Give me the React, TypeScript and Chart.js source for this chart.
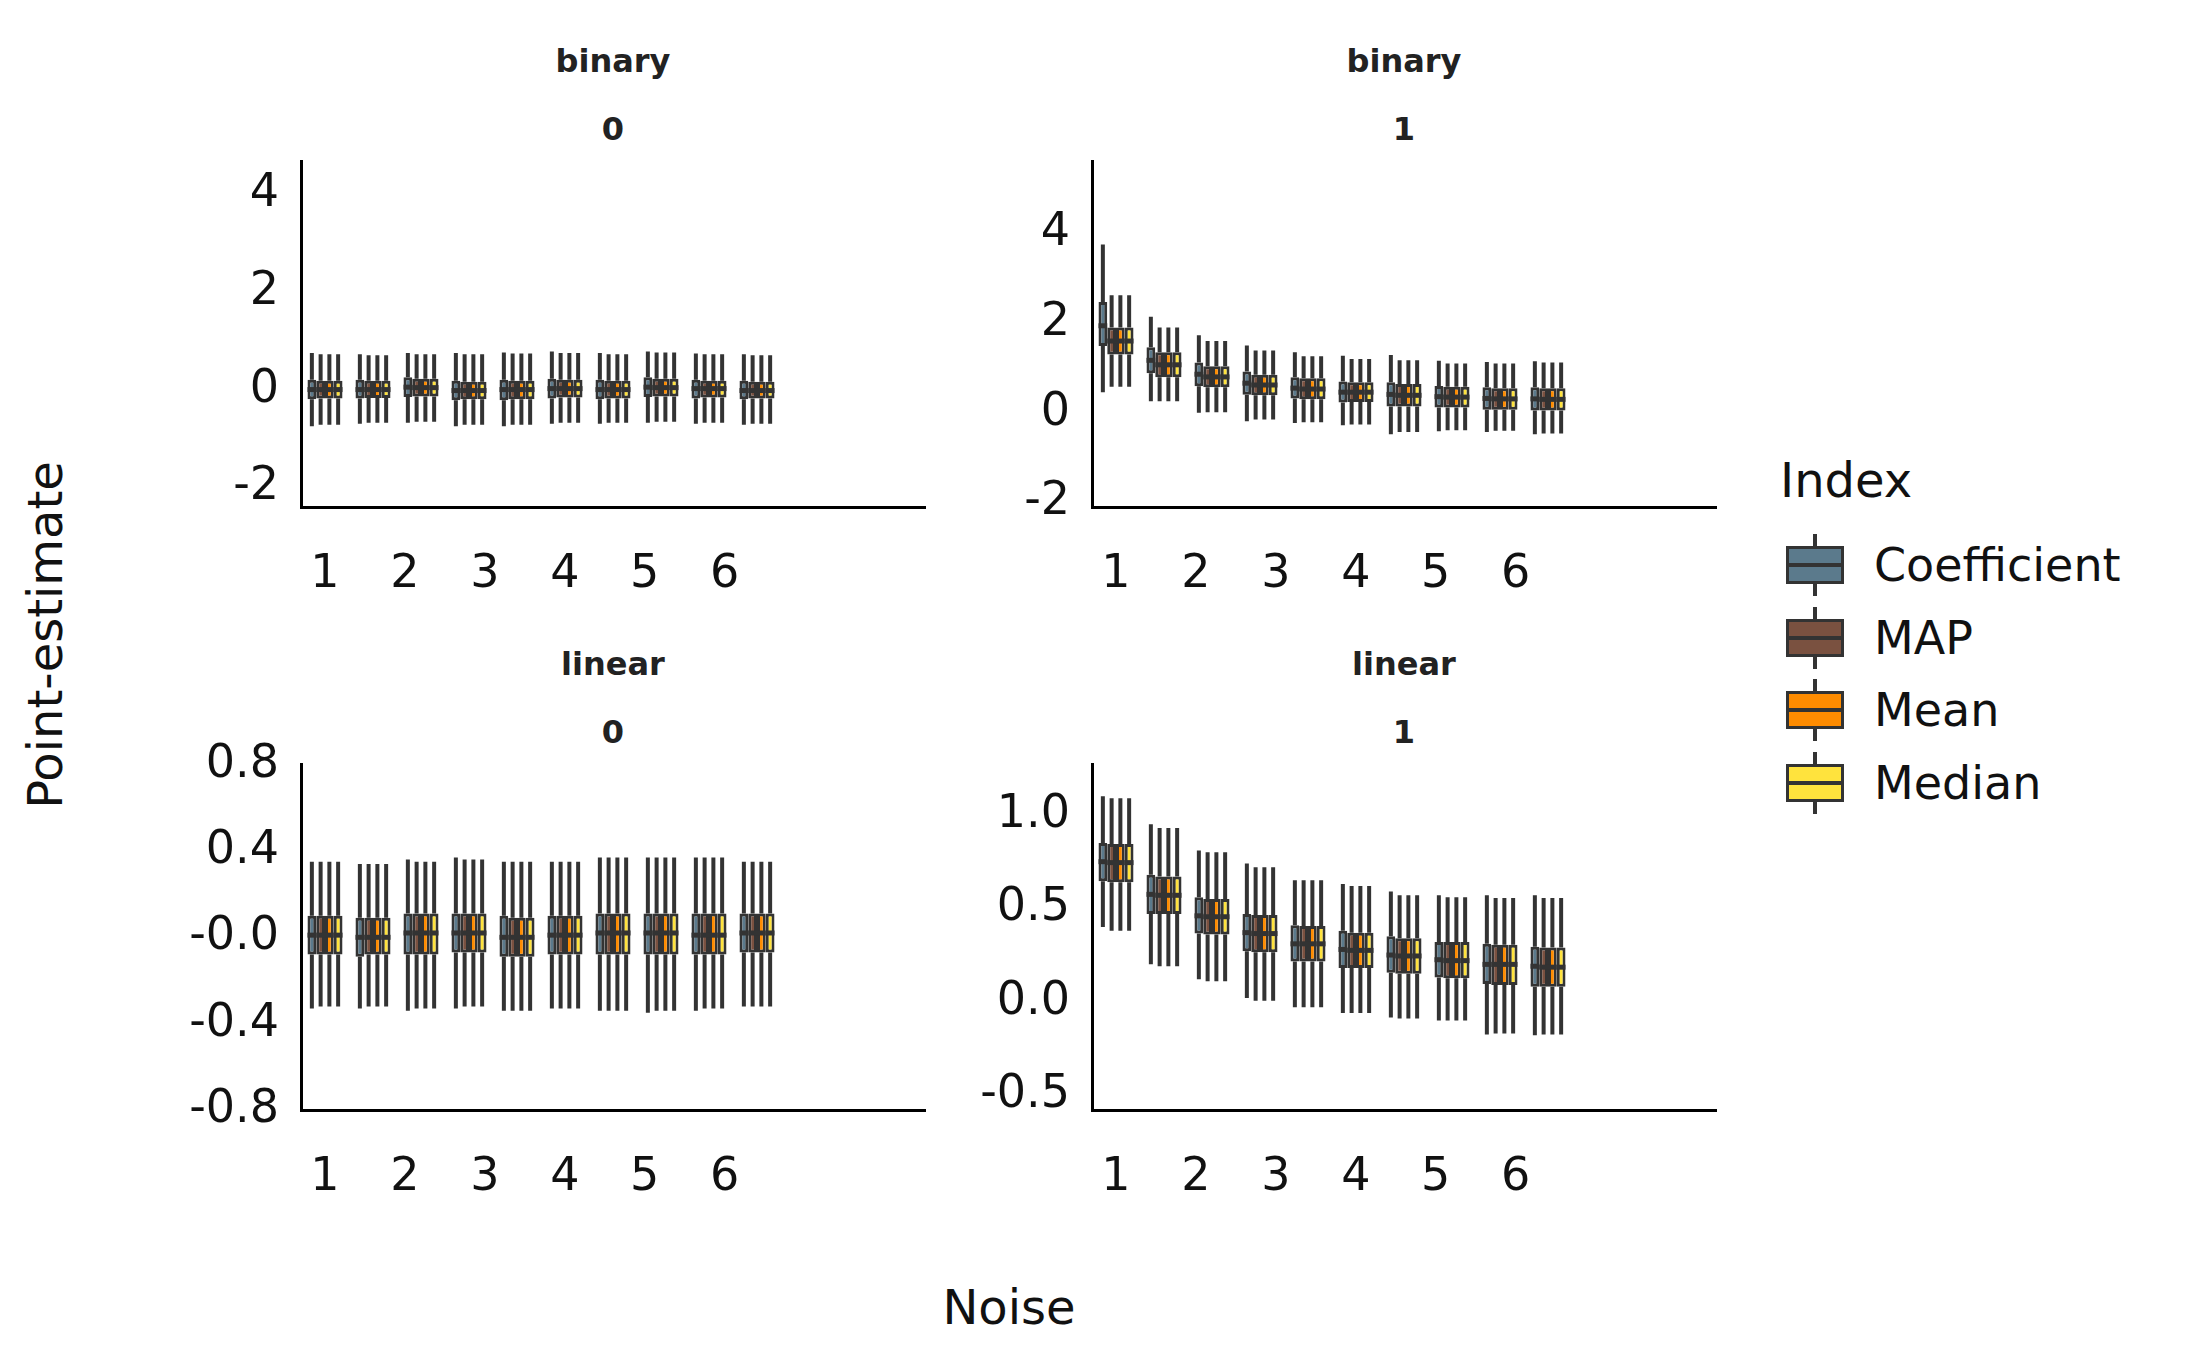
import React, { useEffect, useRef } from "react";
import { Chart, registerables } from "chart.js";
Chart.register(...registerables);

const groups = ["1","2","3","4","5","6","7","8","9","10","","",""];
const noiseTickLabels = ["1","2","3","4","5","6"];
const noiseTickPos = [0, 1.665, 3.33, 4.995, 6.66, 8.325];
const seriesNames = ["Coefficient", "MAP", "Mean", "Median"];
const seriesColors = ["#5B7A8C", "#7A5140", "#FF8C00", "#FFE33D"];

// each box: [whiskerLow, q1, median, q3, whiskerHigh]
type Box = number[];
// binary / noise 0
const tlCoef: Box[] = [[-0.75,-0.2,0,0.2,0.75],[-0.7,-0.18,0,0.2,0.72],[-0.68,-0.15,0.05,0.25,0.75],[-0.75,-0.22,-0.02,0.18,0.75],[-0.75,-0.22,0,0.2,0.76],[-0.7,-0.18,0.02,0.22,0.78],[-0.7,-0.2,0,0.2,0.75],[-0.68,-0.15,0.05,0.25,0.78],[-0.7,-0.18,0.02,0.2,0.74],[-0.72,-0.2,-0.02,0.18,0.72]];
const tlOther: Box[] = [[-0.72,-0.18,0,0.18,0.72],[-0.68,-0.17,0,0.18,0.7],[-0.66,-0.14,0.04,0.22,0.72],[-0.72,-0.2,-0.02,0.16,0.72],[-0.72,-0.2,0,0.18,0.74],[-0.68,-0.16,0.02,0.2,0.75],[-0.68,-0.18,0,0.18,0.72],[-0.66,-0.14,0.04,0.22,0.76],[-0.68,-0.16,0.02,0.18,0.72],[-0.7,-0.18,-0.02,0.16,0.7]];
// binary / noise 1
const trCoef: Box[] = [[0.46,1.49,1.94,2.47,3.75],[0.26,0.88,1.17,1.46,2.14],[0,0.59,0.86,1.12,1.73],[-0.19,0.4,0.66,0.92,1.5],[-0.23,0.32,0.55,0.79,1.35],[-0.28,0.23,0.46,0.7,1.27],[-0.48,0.14,0.41,0.68,1.29],[-0.41,0.12,0.36,0.6,1.16],[-0.43,0.07,0.32,0.57,1.13],[-0.48,0.05,0.31,0.57,1.15]];
const trOther: Box[] = [[0.58,1.3,1.6,1.9,2.62],[0.26,0.79,1.07,1.35,1.9],[0.01,0.57,0.8,1.04,1.6],[-0.15,0.39,0.62,0.85,1.39],[-0.21,0.3,0.53,0.77,1.26],[-0.26,0.24,0.46,0.68,1.2],[-0.43,0.14,0.39,0.64,1.17],[-0.39,0.12,0.35,0.58,1.1],[-0.4,0.07,0.31,0.55,1.1],[-0.46,0.05,0.3,0.55,1.12]];
// linear / noise 0
const blCoef: Box[] = [[-0.34,-0.09,0,0.09,0.34],[-0.34,-0.1,-0.01,0.08,0.33],[-0.35,-0.09,0.01,0.1,0.35],[-0.34,-0.08,0.01,0.1,0.36],[-0.35,-0.1,-0.01,0.09,0.34],[-0.34,-0.09,0,0.09,0.34],[-0.35,-0.09,0.01,0.1,0.36],[-0.36,-0.09,0.01,0.1,0.36],[-0.35,-0.09,0,0.1,0.36],[-0.33,-0.08,0.01,0.1,0.34]];
const blOther: Box[] = [[-0.33,-0.09,0,0.09,0.34],[-0.33,-0.09,-0.01,0.08,0.33],[-0.34,-0.09,0.01,0.1,0.34],[-0.33,-0.08,0.01,0.1,0.35],[-0.35,-0.1,-0.01,0.08,0.34],[-0.34,-0.09,0,0.09,0.34],[-0.35,-0.09,0.01,0.1,0.36],[-0.35,-0.09,0.01,0.1,0.36],[-0.34,-0.09,0,0.1,0.36],[-0.33,-0.08,0.01,0.1,0.34]];
// linear / noise 1
const brCoef: Box[] = [[0.4,0.645,0.75,0.85,1.1],[0.2,0.47,0.575,0.68,0.95],[0.12,0.365,0.46,0.56,0.81],[0.02,0.27,0.37,0.47,0.74],[-0.03,0.215,0.31,0.41,0.65],[-0.06,0.18,0.28,0.38,0.63],[-0.085,0.155,0.25,0.35,0.59],[-0.1,0.13,0.225,0.32,0.57],[-0.175,0.095,0.2,0.31,0.57],[-0.18,0.08,0.19,0.295,0.57]];
const brOther: Box[] = [[0.38,0.64,0.745,0.845,1.09],[0.19,0.47,0.57,0.67,0.93],[0.11,0.36,0.455,0.55,0.8],[0.005,0.265,0.365,0.465,0.72],[-0.03,0.215,0.31,0.405,0.65],[-0.06,0.18,0.275,0.37,0.62],[-0.09,0.15,0.245,0.34,0.57],[-0.1,0.125,0.22,0.32,0.56],[-0.17,0.09,0.2,0.305,0.555],[-0.175,0.08,0.185,0.29,0.555]];

const FONT = "DejaVu Sans";
const DARK = "#333333";
const SHIFT = 39;

type Panel = {
  title1: string; title2: string; left: number; top: number;
  coef: Box[]; other: Box[]; ymin: number; ymax: number; step: number; dec: number;
};

const panels: Panel[] = [
  { title1: "binary", title2: "0", left: 301, top: 161, coef: tlCoef, other: tlOther, ymin: -2.4, ymax: 4.66, step: 2, dec: 0 },
  { title1: "binary", title2: "1", left: 1092, top: 161, coef: trCoef, other: trOther, ymin: -2.1, ymax: 5.6, step: 2, dec: 0 },
  { title1: "linear", title2: "0", left: 301, top: 764, coef: blCoef, other: blOther, ymin: -0.81, ymax: 0.79, step: 0.4, dec: 1 },
  { title1: "linear", title2: "1", left: 1092, top: 764, coef: brCoef, other: brOther, ymin: -0.58, ymax: 1.27, step: 0.5, dec: 1 },
];

const boxPlugin = {
  id: "boxParts",
  beforeDatasetsDraw(chart: any) {
    const ctx = chart.ctx; const y = chart.scales.y;
    chart.data.datasets.forEach((ds: any, i: number) => {
      const meta = chart.getDatasetMeta(i);
      meta.data.forEach((el: any, j: number) => {
        const b = ds.boxes[j]; if (!b) return;
        ctx.save(); ctx.strokeStyle = DARK; ctx.lineWidth = 4;
        ctx.beginPath();
        ctx.moveTo(el.x, y.getPixelForValue(b[0])); ctx.lineTo(el.x, y.getPixelForValue(b[1]));
        ctx.moveTo(el.x, y.getPixelForValue(b[3])); ctx.lineTo(el.x, y.getPixelForValue(b[4]));
        ctx.stroke(); ctx.restore();
      });
    });
  },
  afterDatasetsDraw(chart: any) {
    const ctx = chart.ctx; const y = chart.scales.y;
    chart.data.datasets.forEach((ds: any, i: number) => {
      const meta = chart.getDatasetMeta(i);
      meta.data.forEach((el: any, j: number) => {
        const b = ds.boxes[j]; if (!b) return;
        const py = y.getPixelForValue(b[2]);
        ctx.save(); ctx.strokeStyle = DARK; ctx.lineWidth = 5;
        ctx.beginPath(); ctx.moveTo(el.x - el.width / 2, py); ctx.lineTo(el.x + el.width / 2, py);
        ctx.stroke(); ctx.restore();
      });
    });
  },
};

function PanelChart({ p }: { p: Panel }) {
  const ref = useRef<HTMLCanvasElement>(null);
  useEffect(() => {
    const datasets = seriesNames.map((name, s) => {
      const boxes = s === 0 ? p.coef : p.other;
      return {
        label: name,
        data: boxes.map((b) => [b[1], b[3]]),
        boxes,
        backgroundColor: seriesColors[s],
        borderColor: DARK,
        borderWidth: 3,
        borderSkipped: false,
        categoryPercentage: 0.73,
        barPercentage: 1.0,
      };
    });
    const chart = new Chart(ref.current!, {
      type: "bar",
      data: { labels: groups, datasets: datasets as any },
      plugins: [boxPlugin],
      options: {
        animation: false, responsive: false, maintainAspectRatio: false,
        layout: { padding: { top: 10, right: 10, left: 0, bottom: 0 } },
        plugins: { legend: { display: false }, tooltip: { enabled: false } },
        scales: {
          x: { display: false, offset: true },
          x2: {
            type: "linear", position: "bottom", min: -0.5, max: 12.5, offset: false,
            grid: { display: false, drawTicks: false, offset: false },
            border: { display: true, color: "#000", width: 3 },
            afterBuildTicks: (sc: any) => { sc.ticks = noiseTickPos.map((v) => ({ value: v })); },
            afterFit: (sc: any) => { sc.height = 100; },
            ticks: {
              padding: 40, color: "#111", font: { family: FONT, size: 46 },
              callback: (_v: any, i: number) => noiseTickLabels[i],
            },
          },
          y: {
            min: p.ymin, max: p.ymax,
            grid: { display: false, drawTicks: false },
            border: { display: true, color: "#000", width: 3 },
            afterFit: (sc: any) => { sc.width = 150; },
            ticks: {
              stepSize: p.step, includeBounds: false, padding: 22, color: "#111",
              font: { family: FONT, size: 46 },
              callback: (v: any) => Number(v).toFixed(p.dec),
            },
          },
        },
      } as any,
    });
    return () => chart.destroy();
  }, []);
  const w = 784, h = 456 + SHIFT;
  return (
    <>
      <div style={{ position: "absolute", left: p.left, width: 624, top: p.top - 120, textAlign: "center", fontFamily: FONT, fontWeight: "bold", fontSize: 32, color: "#222", lineHeight: "40px" }}>{p.title1}</div>
      <div style={{ position: "absolute", left: p.left, width: 624, top: p.top - 52, textAlign: "center", fontFamily: FONT, fontWeight: "bold", fontSize: 32, color: "#222", lineHeight: "40px" }}>{p.title2}</div>
      <canvas ref={ref} width={w} height={h} style={{ position: "absolute", left: p.left - 150, top: p.top - 10 - SHIFT, width: w, height: h }} />
    </>
  );
}

function LegendHandle({ color }: { color: string }) {
  return (
    <div style={{ position: "relative", width: 58, height: 62 }}>
      <div style={{ position: "absolute", left: 27, top: 0, width: 4, height: 62, background: DARK }} />
      <div style={{ position: "absolute", left: 0, top: 12, width: 52, height: 32, background: color, border: `3px solid ${DARK}` }} />
      <div style={{ position: "absolute", left: 0, top: 29, width: 58, height: 4, background: DARK }} />
    </div>
  );
}

export default function App() {
  return (
    <div style={{ position: "fixed", left: 0, top: 0, width: 2187, height: 1351, background: "#fff", overflow: "hidden" }}>
      {panels.map((p, i) => <PanelChart key={i} p={p} />)}
      <div style={{ position: "absolute", left: 45, top: 635, transform: "translate(-50%,-50%) rotate(-90deg)", fontFamily: FONT, fontSize: 48, color: "#111", whiteSpace: "nowrap" }}>Point-estimate</div>
      <div style={{ position: "absolute", left: 1009, top: 1307, transform: "translate(-50%,-50%)", fontFamily: FONT, fontSize: 48, color: "#111" }}>Noise</div>
      <div style={{ position: "absolute", left: 1780, top: 452, fontFamily: FONT, fontSize: 48, color: "#111" }}>Index</div>
      {seriesNames.map((n, i) => (
        <div key={n} style={{ position: "absolute", left: 1786, top: 534 + i * 72.5, display: "flex", alignItems: "center" }}>
          <LegendHandle color={seriesColors[i]} />
          <span style={{ marginLeft: 30, fontFamily: FONT, fontSize: 46, color: "#111" }}>{n}</span>
        </div>
      ))}
    </div>
  );
}
